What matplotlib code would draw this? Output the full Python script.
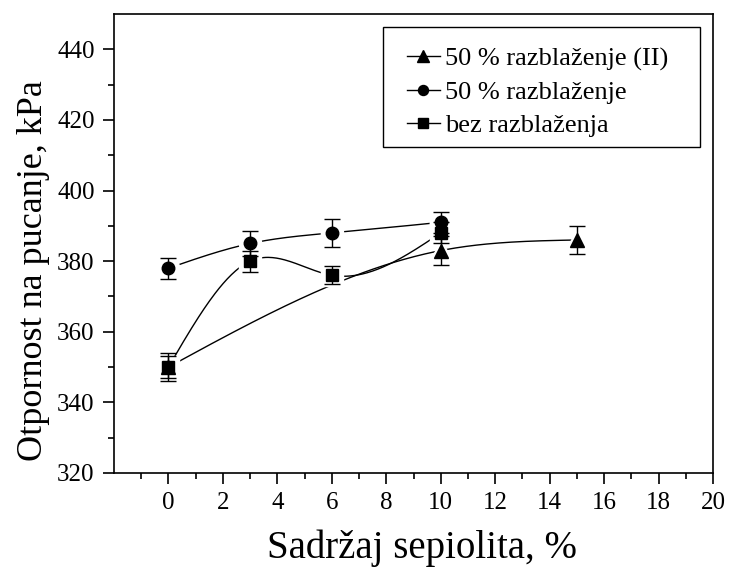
import numpy as np
import matplotlib
matplotlib.use("Agg")
import matplotlib.pyplot as plt
from matplotlib.lines import Line2D
from matplotlib.patches import Rectangle

plt.rcParams['font.family'] = ['Liberation Serif', 'DejaVu Serif']

# Data: sepiolite content (%) vs. burst strength (kPa)
x_tri = [0, 10, 15]
y_tri = [350, 383, 386]
e_tri = [4, 4, 4]

x_cir = [0, 3, 6, 10]
y_cir = [378, 385, 388, 391]
e_cir = [3, 3.5, 4, 3]

x_sq = [0, 3, 6, 10]
y_sq = [350, 380, 376, 388]
e_sq = [3, 3, 2.5, 3]

labels = ["50 % razblaženje (II)", "50 % razblaženje", "bez razblaženja"]
xticks = [0, 2, 4, 6, 8, 10, 12, 14, 16, 18, 20]
yticks = [320, 340, 360, 380, 400, 420, 440]


def natural_spline(x, y, n=200):
    x = np.asarray(x, float)
    y = np.asarray(y, float)
    k = len(x)
    h = np.diff(x)
    A = np.zeros((k, k))
    b = np.zeros(k)
    A[0, 0] = A[-1, -1] = 1
    for i in range(1, k - 1):
        A[i, i - 1] = h[i - 1]
        A[i, i] = 2 * (h[i - 1] + h[i])
        A[i, i + 1] = h[i]
        b[i] = 6 * ((y[i + 1] - y[i]) / h[i] - (y[i] - y[i - 1]) / h[i - 1])
    M = np.linalg.solve(A, b)
    xs = np.linspace(x[0], x[-1], n)
    ys = np.empty_like(xs)
    for j, t in enumerate(xs):
        i = min(np.searchsorted(x, t, side='right') - 1, k - 2)
        a = x[i + 1] - t
        c = t - x[i]
        ys[j] = (M[i] * a ** 3 + M[i + 1] * c ** 3) / (6 * h[i]) \
            + (y[i] / h[i] - M[i] * h[i] / 6) * a \
            + (y[i + 1] / h[i] - M[i + 1] * h[i] / 6) * c
    return xs, ys


W, H = 735, 567
fig = plt.figure(figsize=(W / 100, H / 100), dpi=100)
ax = fig.add_axes([114 / W, 1 - 473 / H, (713 - 114) / W, (473 - 14) / H])

series = [
    (x_tri, y_tri, e_tri, '^', 10),
    (x_cir, y_cir, e_cir, 'o', 9),
    (x_sq, y_sq, e_sq, 's', 8.5),
]
for (xs, ys, es, m, ms) in series:
    sx, sy = natural_spline(xs, ys)
    ax.plot(sx, sy, color='black', lw=1.0, zorder=1)
    # white halo leaves a small gap between curve and marker
    ax.plot(xs, ys, ls='none', marker=m, ms=ms + 7, mfc='white', mec='white', zorder=2)
    ax.errorbar(xs, ys, yerr=es, fmt='none', ecolor='black', elinewidth=1.0,
                capsize=6, capthick=1.0, zorder=3)
    ax.plot(xs, ys, ls='none', marker=m, ms=ms, mfc='black', mec='black', zorder=4)

handles = [Line2D([], [], color='black', lw=1.0, marker=m, ms=ms * 0.8, mfc='black')
           for (_, _, _, m, ms) in series]
leg = ax.legend(handles, labels, loc='upper left',
                bbox_to_anchor=(407 / W, 1 - 47 / H), bbox_transform=fig.transFigure,
                fontsize=19, frameon=False,
                handlelength=1.25, handletextpad=0.2, borderpad=0,
                labelspacing=0.37, borderaxespad=0)
fig.patches.append(Rectangle((383 / W, 1 - 147 / H), (700 - 383) / W, (147 - 27) / H,
                             transform=fig.transFigure, fill=False,
                             edgecolor='black', lw=1.0, zorder=5))

ax.set_xlim(-2, 20)
ax.set_ylim(320, 450)
ax.set_xticks(xticks)
ax.set_yticks(yticks)
ax.set_xticks(np.arange(-1, 20, 2), minor=True)
ax.set_yticks(np.arange(330, 450, 20), minor=True)
ax.tick_params(axis='both', which='major', direction='out', length=8, width=1.2,
               labelsize=18, pad=6)
ax.tick_params(axis='both', which='minor', direction='out', length=4, width=1.2)
ax.tick_params(top=False, right=False, which='both')
for s in ax.spines.values():
    s.set_linewidth(1.2)

ax.set_xlabel("Sadržaj sepiolita, %", fontsize=28)
ax.set_ylabel("Otpornost na pucanje, kPa", fontsize=26)
ax.xaxis.set_label_coords((422 - 114) / 599, -(548 - 473) / 459)
ax.yaxis.set_label_coords(-(114 - 33) / 599, (473 - 271) / 459)
ax.xaxis.label.set_va('center')
ax.yaxis.label.set_va('center')

fig.savefig("out.png", dpi=100)
